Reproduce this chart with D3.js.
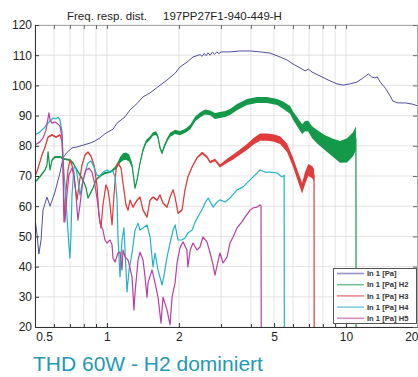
<!DOCTYPE html>
<html><head><meta charset="utf-8">
<script src="https://cdn.jsdelivr.net/npm/d3@7"></script>
<style>
body{margin:0;background:#fff;}
svg{display:block;font-family:"Liberation Sans",Arial,sans-serif;}
</style></head><body>
<svg id="c" width="418" height="377"></svg>
<script>
// ---- data (frequency in kHz, level in dB; optional 3rd value = noise half-width in dB)
const titleLeft = "Freq. resp. dist.";
const titleRight = "197PP27F1-940-449-H";
const caption = "THD 60W - H2 dominiert";
const xTicks = [0.5, 1, 2, 5, 10, 20];
const xMinor = [0.6, 0.7, 0.8, 0.9, 3, 4, 6, 7, 8, 9];
const yTicks = [20, 30, 40, 50, 60, 70, 80, 90, 100, 110, 120];
const legendLabels = ["In 1 [Pa]", "In 1 [Pa] H2", "In 1 [Pa] H3", "In 1 [Pa] H4", "In 1 [Pa] H5"];
const seriesColors = ["#4f4f9e", "#14994a", "#e23b3b", "#22b2c8", "#b8409f"];

const fund = [[0.500,56],[0.510,50.5],[0.519,44.2],[0.530,48.8],[0.540,58.7],[0.561,63],[0.578,60],[0.606,64.7],[0.636,71],[0.655,76],[0.680,77.8],[0.714,79.3],[0.749,79.6],[0.80,80.3],[0.849,80.9],[0.891,81.6],[0.935,82.6],[0.981,84],[1.06,85.5],[1.102,87.5],[1.19,89.6],[1.249,91.9],[1.336,94],[1.415,96.2],[1.514,97.5],[1.62,99.3],[1.784,101.8],[1.927,104],[2.02,106.1],[2.16,107.7],[2.29,109.4],[2.45,110.2],[2.5,109.6],[2.55,110.6],[2.6,109.8],[2.65,110.8],[2.7,110],[2.76,111],[2.82,110.3],[2.88,111.1],[2.94,110.5],[3.0,111.1],[3.27,111.1],[3.6,111.4],[3.97,111.4],[4.37,111.1],[4.81,110.7],[5.3,109.4],[5.67,108.4],[6.0,107.1],[6.42,105.8],[6.74,104.8],[6.95,105.4],[7.21,104.4],[7.79,103.1],[8.57,101.5],[9.17,100.5],[9.72,100.1],[10.4,100.5],[11.1,101.1],[11.8,102.5],[12.4,103.8],[12.8,102.8],[13.2,102.5],[13.5,102.8],[13.9,101.1],[14.6,99.1],[15.3,96.5],[15.7,94.8],[16.5,94.2],[17.7,94.2],[18.9,93.8],[20,93.2]];

const h2 = [[0.500,68,.3],[0.524,69.7,.3],[0.551,72,.3],[0.561,73.6,.3],[0.567,78,.3],[0.578,72,.3],[0.589,75.3,.3],[0.606,76.3,.3],[0.636,76.3,.3],[0.667,75.6,.3],[0.700,75.3,.3],[0.721,74.3,.3],[0.749,72,.3],[0.771,70.3,.3],[0.794,68.7,.3],[0.818,66,.3],[0.833,62.7,.3],[0.849,64,.3],[0.874,66,.3],[0.900,68.7,.3],[0.935,70,.3],[0.981,71,.3],[1.030,71.3,.3],[1.081,72.6,.5],[1.112,74,.8],[1.134,75.3,1],[1.167,76.3,1.2],[1.20,76.6,1.2],[1.237,76,1.2],[1.273,73.6,.8],[1.297,68.7,.5],[1.310,66,.3],[1.336,68.7,.4],[1.375,74.3,.5],[1.415,78.6,.6],[1.457,81.3,.6],[1.514,82.6,.6],[1.558,83.9,.6],[1.605,84.2,.6],[1.635,82.9,.6],[1.667,79.3,.5],[1.700,77.6,.5],[1.733,79.6,.6],[1.784,81.9,.6],[1.836,83.6,.7],[1.927,84.6,.7],[2.02,84.2,.7],[2.12,84.9,.7],[2.23,86.2,.8],[2.34,88.9,.8],[2.45,90.2,.8],[2.57,91.2,.8],[2.70,90.9,.8],[2.83,89.9,1],[2.97,90.2,1],[3.12,90.5,1],[3.27,91.2,1],[3.50,92.8,1],[3.85,94.5,1],[4.24,95.2,1],[4.67,95.2,1],[5.15,94.5,1],[5.45,93.5,1.2],[5.83,91.9,1.3],[6.00,90,1.4],[6.24,88,1.5],[6.55,85.5,1.6],[6.74,86.5,1.7],[6.95,86.5,1.8],[7.21,84.5,2],[7.57,83,2.2],[8.17,81,2.5],[8.83,79.3,3],[9.44,78,3.6],[10.1,78.5,4],[10.7,80.5,4],[11.0,82.5,4],[11.02,10,0]];

const h3 = [[0.500,69.7,.3],[0.515,72.6,.3],[0.535,77,.3],[0.551,79.6,.3],[0.567,82.9,.3],[0.589,83.6,.3],[0.612,82.9,.3],[0.636,83.6,.3],[0.649,81.3,.3],[0.655,73.6,.3],[0.661,54.8,.3],[0.674,65.4,.3],[0.687,72,.3],[0.700,75.3,.3],[0.714,73.6,.3],[0.735,67,.3],[0.749,62,.3],[0.764,67,.3],[0.786,73.6,.3],[0.810,77,.3],[0.833,77.9,.3],[0.857,76.6,.3],[0.883,73.6,.3],[0.908,67,.3],[0.926,57,.3],[0.944,52.8,.3],[0.962,60.4,.3],[0.990,67,.3],[1.010,65.4,.3],[1.030,60.4,.3],[1.050,53.8,.3],[1.070,63.7,.3],[1.091,72,.3],[1.112,74.3,.3],[1.145,72.6,.3],[1.167,67.7,.3],[1.201,60.4,.3],[1.225,58.7,.3],[1.249,62,.3],[1.285,59.7,.3],[1.336,62,.3],[1.375,63,.3],[1.415,58.7,.3],[1.471,56.4,.3],[1.514,62,.3],[1.558,63,.3],[1.620,62,.3],[1.667,63.7,.3],[1.716,61,.3],[1.784,59.7,.3],[1.836,63,.3],[1.890,65.4,.3],[1.927,63,.3],[1.983,57.7,.3],[2.06,58.7,.3],[2.12,65.4,.3],[2.18,69.7,.3],[2.27,73,.3],[2.38,76,.3],[2.50,77.6,.4],[2.62,76.3,.4],[2.70,74.6,.4],[2.83,75.3,.4],[2.97,73.3,.5],[3.18,75,.7],[3.37,76.3,.8],[3.60,77.9,.9],[3.85,79.6,1],[4.12,81.6,1.1],[4.37,82.9,1.2],[4.67,82.9,1.2],[4.95,82.6,1.2],[5.30,81.9,1.3],[5.67,79.3,1.4],[6.00,74.6,1.5],[6.30,69.7,1.6],[6.55,66,1.8],[6.74,69.3,2],[6.95,72,2],[7.21,71.3,2],[7.35,70.3,2],[7.36,10,0]];

const h4 = [[0.500,83.6],[0.524,84.6],[0.546,85.9],[0.561,87.2],[0.578,88.2],[0.595,89.2],[0.612,88.9],[0.624,89.5],[0.636,88.5],[0.649,84.6],[0.655,75.3],[0.667,67],[0.680,57.1],[0.693,47.2],[0.700,42.8],[0.707,50.5],[0.714,63.7],[0.728,73],[0.742,72.6],[0.756,68.7],[0.771,63.7],[0.786,67],[0.810,71.3],[0.833,74.3],[0.857,75],[0.883,73],[0.908,70.3],[0.935,70],[0.962,71.3],[1.000,72],[1.030,71.3],[1.060,71.6],[1.081,69.7],[1.102,62],[1.112,49.8],[1.134,36.6],[1.156,48.8],[1.178,52.8],[1.190,45.5],[1.213,31.6],[1.237,38.9],[1.273,44.5],[1.310,52],[1.349,54.4],[1.375,52.1],[1.415,52.8],[1.471,53.8],[1.514,49.8],[1.558,39.9],[1.589,44.5],[1.635,38.9],[1.700,33.9],[1.733,37.2],[1.784,43.2],[1.836,47.8],[1.890,52.1],[1.927,53.8],[1.983,48.8],[2.06,48.8],[2.12,49.5],[2.18,51.1],[2.27,52.1],[2.34,54.8],[2.40,56.4],[2.50,59],[2.57,61],[2.65,62.7],[2.78,59.7],[2.89,61.4],[2.97,62.1],[3.12,61.4],[3.27,62.7],[3.50,65.4],[3.71,66.4],[3.97,68.7],[4.16,70.3],[4.37,72],[4.58,71.3],[4.81,71.3],[5.15,71],[5.40,69.7],[5.51,70.3],[5.52,10]];

const h5 = [[0.500,80.3],[0.524,81.3],[0.540,82.6],[0.556,85.2],[0.567,89.2],[0.572,90.9],[0.578,88.5],[0.589,87.5],[0.606,87.9],[0.624,87.2],[0.636,86.5],[0.649,82.9],[0.655,73.6],[0.661,58.7],[0.667,54.8],[0.680,63.7],[0.693,70.3],[0.714,72.6],[0.728,71],[0.742,63.7],[0.756,55.4],[0.771,60.4],[0.794,68.7],[0.818,72],[0.841,72.6],[0.866,71.3],[0.891,67],[0.917,60.4],[0.935,54.4],[0.962,52.1],[0.981,48.8],[1.000,47.8],[1.030,48.8],[1.050,47.2],[1.060,42.8],[1.081,41.5],[1.112,44.5],[1.134,44.8],[1.156,38.9],[1.167,45.5],[1.190,43.2],[1.225,42.2],[1.273,36.6],[1.297,25.6],[1.310,31.3],[1.349,42.2],[1.375,44.8],[1.415,42.2],[1.443,36.6],[1.471,29.9],[1.485,34.6],[1.543,38.9],[1.589,34.6],[1.635,29.9],[1.683,21.3],[1.716,29.9],[1.784,25.6],[1.836,20.7],[1.872,29.9],[1.927,34.6],[1.964,41.2],[2.02,46.2],[2.08,48.2],[2.16,45.5],[2.18,39.9],[2.23,45.5],[2.29,47.8],[2.38,45.5],[2.45,46.5],[2.52,49.8],[2.62,48.2],[2.70,44.5],[2.78,40.5],[2.83,37.2],[2.89,40.5],[2.97,44.5],[3.06,41.2],[3.18,43.2],[3.27,47.8],[3.37,49.8],[3.50,52.8],[3.67,54.8],[3.78,56.4],[3.97,58.7],[4.08,59.4],[4.24,59.7],[4.37,60.4],[4.41,60],[4.42,10]];

const allSeries = [fund, h2, h3, h4, h5];

// ---- layout
const L = 35, R = 418, T = 25, B = 327;
const svg = d3.select("#c");
const x = d3.scaleLog().domain([0.5, 20]).range([L, R]);
const y = d3.scaleLinear().domain([20, 120]).range([B, T]);

svg.append("rect").attr("x", 0).attr("y", 0).attr("width", 418).attr("height", 377).attr("fill", "#fff");

// grid
const grid = svg.append("g");
grid.selectAll("line.v").data(xTicks.concat(xMinor)).join("line")
  .attr("x1", d => x(d)).attr("x2", d => x(d)).attr("y1", T).attr("y2", B)
  .attr("stroke", "#dcdcdc").attr("stroke-width", 0.8);
grid.selectAll("line.h").data(yTicks).join("line")
  .attr("x1", L).attr("x2", R).attr("y1", d => y(d)).attr("y2", d => y(d))
  .attr("stroke", "#dcdcdc").attr("stroke-width", 0.8);

// clip
svg.append("clipPath").attr("id", "clip").append("rect")
  .attr("x", L).attr("y", T).attr("width", R - L).attr("height", B - T);
const plot = svg.append("g").attr("clip-path", "url(#clip)");

const line = d3.line().x(d => x(d[0])).y(d => y(d[1]));
const band = d3.area().x(d => x(d[0])).y0(d => y(d[1] - (d[2] || 0))).y1(d => y(d[1] + (d[2] || 0)));

allSeries.forEach((s, i) => {
  if (s[0].length > 2) {
    plot.append("path").datum(s).attr("d", band).attr("fill", seriesColors[i]).attr("stroke", "none");
  }
  plot.append("path").datum(s).attr("d", line).attr("fill", "none")
    .attr("stroke", seriesColors[i]).attr("stroke-width", i === 0 ? 1 : 1.2)
    .attr("stroke-linejoin", "round");
});

// axes
const axCol = "#333";
const gx = svg.append("g").attr("transform", `translate(0,${B})`)
  .call(d3.axisBottom(x).tickValues(xTicks).tickFormat(d => String(d)).tickSizeInner(-4).tickSizeOuter(0).tickPadding(5));
gx.selectAll("text").filter(d => d === 0.5).attr("dx", 9);
gx.selectAll("text").filter(d => d === 20).attr("text-anchor", "end").attr("dx", 0);
const gxm = svg.append("g").attr("transform", `translate(0,${B})`)
  .call(d3.axisBottom(x).tickValues(xMinor).tickFormat("").tickSizeInner(-3).tickSizeOuter(0));
const gxt = svg.append("g").attr("transform", `translate(0,${T})`)
  .call(d3.axisTop(x).tickValues(xTicks.concat(xMinor)).tickFormat("").tickSizeInner(-4).tickSizeOuter(0));
const gy = svg.append("g").attr("transform", `translate(${L},0)`)
  .call(d3.axisLeft(y).tickValues(yTicks).tickSizeInner(-4).tickSizeOuter(0).tickPadding(3));
const gyr = svg.append("g").attr("transform", `translate(${R - 1},0)`)
  .call(d3.axisRight(y).tickValues(yTicks).tickFormat("").tickSizeInner(-4).tickSizeOuter(0));
[gx, gxm, gy].forEach(g => { g.select(".domain").attr("stroke", axCol); g.selectAll(".tick line").attr("stroke", axCol); });
[gxt, gyr].forEach(g => { g.select(".domain").attr("stroke", "#aaa"); g.selectAll(".tick line").attr("stroke", "#666"); });
svg.selectAll(".tick text").attr("fill", "#222").attr("font-size", 12).attr("font-family", "Liberation Sans, Arial, sans-serif");

// title
const title = svg.append("text").attr("y", 20).attr("font-size", 11.5).attr("fill", "#222");
title.append("tspan").attr("x", 67).text(titleLeft);
title.append("tspan").attr("x", 163).text(titleRight);

// legend
const lg = svg.append("g");
lg.append("rect").attr("x", 333.5).attr("y", 268.5).attr("width", 83).attr("height", 55)
  .attr("fill", "#fff").attr("stroke", "#555").attr("stroke-width", 1);
legendLabels.forEach((t, i) => {
  const yy = 273.5 + i * 11.2;
  lg.append("line").attr("x1", 337).attr("x2", 364).attr("y1", yy).attr("y2", yy)
    .attr("stroke", seriesColors[i]).attr("stroke-opacity", 0.6).attr("stroke-width", 1.6);
  lg.append("text").attr("x", 367).attr("y", yy + 2.6).attr("font-size", 7.6).attr("font-weight", "bold")
    .attr("fill", "#333").text(t);
});

// caption
svg.append("text").attr("x", 33).attr("y", 371).attr("font-size", 21).attr("fill", "#2399b3")
  .attr("font-family", "Liberation Sans, Arial, sans-serif").text(caption);
</script>
</body></html>
